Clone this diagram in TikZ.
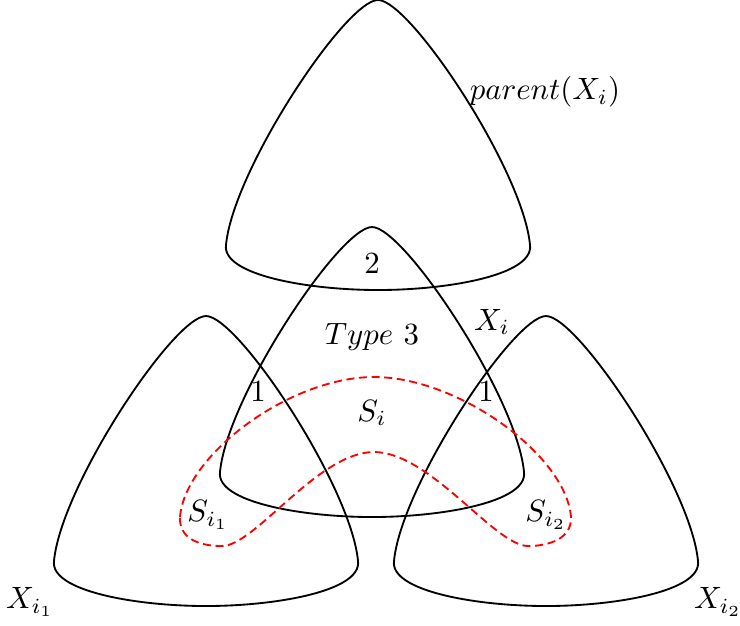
\documentclass[tikz,border=0pt]{standalone}
\usepackage{amsmath,amssymb}
\usepackage{xcolor}
\usepackage{tikz}
\usetikzlibrary{positioning}

\begin{document}
\begin{tikzpicture}[x=0.0114cm, y=-0.0114cm, semithick,
  bag/.pic={
    \draw (0,0) .. controls (-32,0) and (-145,170) .. (-152,245)
      .. controls (-156,275) and (-70,290) .. (0,290)
      .. controls (70,290) and (156,275) .. (152,245)
      .. controls (145,170) and (32,0) .. (0,0) -- cycle;
  },
  sep/.style={draw=red, dash pattern=on 2.6pt off 1.5pt}]
  \useasboundingbox (0,0) rectangle (740,625);
  % bags
  \pic at (378,0) {bag};
  \pic at (372,227) {bag};
  \pic at (206,316) {bag};
  \pic at (546,316) {bag};
  % separator
  \draw[sep] (180,517) .. controls (185,455) and (290,377) .. (374,377)
    .. controls (458,377) and (566,455) .. (571,517)
    .. controls (572,538) and (550,546) .. (528,546)
    .. controls (495,546) and (430,452) .. (374,452)
    .. controls (318,452) and (255,546) .. (222,546)
    .. controls (198,546) and (179,538) .. (180,517) -- cycle;
  % labels
  \node (par) at (545,92) {$parent(X_i)$};
  \node (two) at (372,264) {$2$};
  \node (typ) at (372,337) {$Type\ 3$};
  \node (xi) at (492,322) {$X_i$};
  \node (onel) at (258,392) {$1$};
  \node (oner) at (486,392) {$1$};
  \node (si) at (372,413) {$S_i$};
  \node (sia) at (208,515) {$S_{i_1}$};
  \node (sib) at (546,515) {$S_{i_2}$};
  \node (xia) at (30,602) {$X_{i_1}$};
  \node (xib) at (718,602) {$X_{i_2}$};
\end{tikzpicture}
\end{document}
